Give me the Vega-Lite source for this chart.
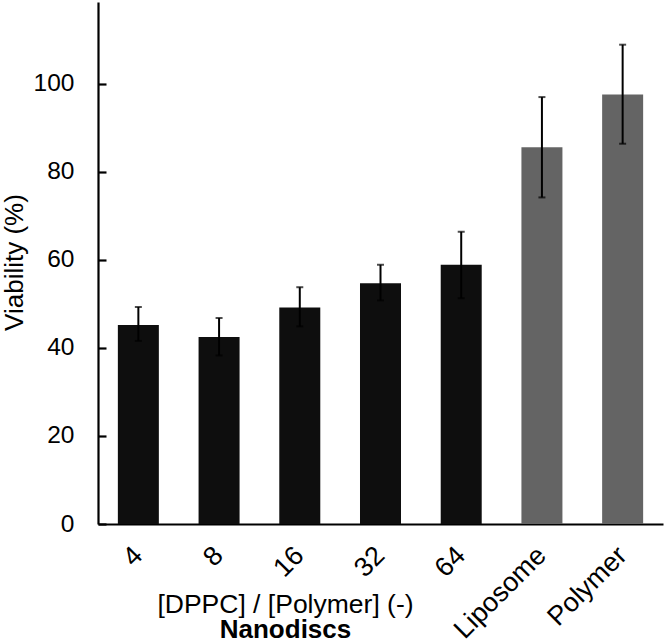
{
  "$schema": "https://vega.github.io/schema/vega-lite/v6.json",
  "width": 565,
  "height": 522,
  "autosize": {"type": "none"},
  "padding": {"left": 98, "top": 2, "right": 1, "bottom": 117},
  "background": "white",
  "config": {
    "view": {"stroke": null},
    "font": "Liberation Sans",
    "axis": {"labelFont": "Liberation Sans", "titleFont": "Liberation Sans", "labelColor": "black", "titleColor": "black", "grid": false}
  },
  "data": {
    "values": [
      {"group": "4", "type": "Nanodisc", "mean": 45.2, "lo": 41.6, "hi": 49.3},
      {"group": "8", "type": "Nanodisc", "mean": 42.5, "lo": 38.3, "hi": 46.8},
      {"group": "16", "type": "Nanodisc", "mean": 49.2, "lo": 44.9, "hi": 53.8},
      {"group": "32", "type": "Nanodisc", "mean": 54.7, "lo": 50.8, "hi": 58.9},
      {"group": "64", "type": "Nanodisc", "mean": 58.9, "lo": 51.3, "hi": 66.4},
      {"group": "Liposome", "type": "Control", "mean": 85.6, "lo": 74.2, "hi": 97.0},
      {"group": "Polymer", "type": "Control", "mean": 97.6, "lo": 86.4, "hi": 108.9}
    ]
  },
  "resolve": {"axis": {"x": "independent"}},
  "layer": [
    {
      "mark": {"type": "bar"},
      "encoding": {
        "x": {
          "field": "group", "type": "nominal", "sort": null,
          "scale": {"paddingInner": 0.492, "paddingOuter": 0.246},
          "axis": {
            "orient": "bottom",
            "title": "[DPPC] / [Polymer] (-)",
            "titleFontSize": 26.5, "titleFontWeight": "normal",
            "titleX": 187, "titleY": 88, "titleBaseline": "alphabetic", "titleAlign": "center", "titleAnchor": null,
            "labelAngle": -45, "labelAlign": "right", "labelBaseline": "middle", "labelFontSize": 27, "labelPadding": 27,
            "ticks": false, "domainColor": "black", "domainWidth": 2.2, "labelOverlap": false
          }
        },
        "y": {
          "field": "mean", "type": "quantitative", "title": "Viability (%)",
          "scale": {"domain": [0, 118.6], "nice": false, "zero": true},
          "axis": {
            "values": [0, 20, 40, 60, 80, 100],
            "tickSize": -8, "tickWidth": 2.2, "tickColor": "black",
            "domainColor": "black", "domainWidth": 2.2,
            "labelFontSize": 24.5, "labelPadding": 32,
            "titleFontSize": 26, "titleFontWeight": "normal",
            "titleX": -76, "titleY": 260, "titleBaseline": "alphabetic", "titleAngle": -90, "titleAlign": "center"
          }
        },
        "color": {
          "field": "type", "type": "nominal",
          "scale": {"domain": ["Nanodisc", "Control"], "range": ["#0e0e0e", "#646464"]},
          "legend": null
        }
      }
    },
    {
      "mark": {"type": "rule", "strokeWidth": 2, "color": "black"},
      "encoding": {
        "x": {
          "field": "group", "type": "nominal", "sort": null,
          "axis": {
            "orient": "bottom",
            "title": "Nanodiscs",
            "titleFontSize": 26, "titleFontWeight": "bold",
            "titleX": 187, "titleY": 113, "titleBaseline": "alphabetic", "titleAlign": "center", "titleAnchor": null,
            "labels": false, "ticks": false, "domain": false
          }
        },
        "y": {"field": "lo", "type": "quantitative", "title": "Viability (%)"},
        "y2": {"field": "hi"}
      }
    },
    {
      "mark": {"type": "tick", "thickness": 2, "size": 7, "color": "black"},
      "encoding": {
        "x": {"field": "group", "type": "nominal", "sort": null, "axis": null},
        "y": {"field": "lo", "type": "quantitative", "title": "Viability (%)"}
      }
    },
    {
      "mark": {"type": "tick", "thickness": 2, "size": 7, "color": "black"},
      "encoding": {
        "x": {"field": "group", "type": "nominal", "sort": null, "axis": null},
        "y": {"field": "hi", "type": "quantitative", "title": "Viability (%)"}
      }
    }
  ]
}
